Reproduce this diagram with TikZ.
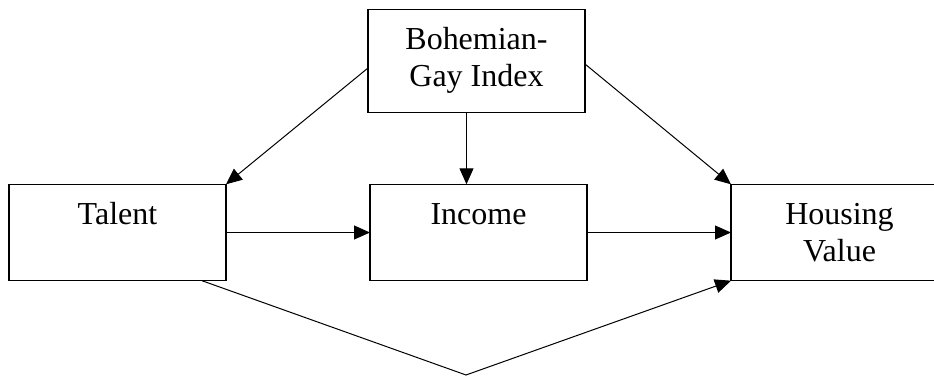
\documentclass[tikz,border=0pt]{standalone}
\usepackage{fontspec}
\setmainfont{Liberation Serif}
\usepackage{tikz}
\usetikzlibrary{positioning,calc,arrows.meta}
\newcommand{\boxlines}[1]{\begin{tabular}[t]{@{}c@{}}#1\end{tabular}}

\begin{document}
\begin{tikzpicture}[node distance=72pt, auto,
    font=\fontsize{16}{18.5}\selectfont,
    box/.style={rectangle, draw, line width=0.65pt, inner ysep=0pt, outer sep=0pt, minimum width=108.5pt, text height=20.25pt, text depth=27.95pt},
    arrow/.style={-{Triangle[length=8pt,width=7pt]}, line width=0.5pt}]

    \useasboundingbox (0,0) rectangle (467pt,-188pt);
    \clip (0,0) rectangle (467pt,-188pt);

    % Middle row
    \node[box] (talent) at (58.75pt,-116.25pt) {\boxlines{Talent}};
    \node[box, right=of talent] (income) {\boxlines{Income}};
    \node[box, right=of income] (housing) {\boxlines{Housing\\Value}};

    % Top box
    \node[box, text depth=31.45pt, above=35.8pt of income, xshift=-1pt] (bgi) {\boxlines{Bohemian-\\Gay Index}};

    % Bend point of the lower path
    \coordinate (apex) at (233pt,-187.5pt);

    % Arrows
    \draw[arrow] ([yshift=-3.5pt]bgi.west) -- (talent.north east);
    \draw[arrow] ([xshift=-5pt]bgi.south) -- ([xshift=-5pt]bgi.south |- income.north);
    \draw[arrow] ([yshift=-1.5pt]bgi.east) -- (housing.north west);
    \draw[arrow] (talent.east) -- (income.west);
    \draw[arrow] (income.east) -- (housing.west);
    \draw[arrow] ([xshift=42.25pt]talent.south) -- (apex) -- (housing.south west);

\end{tikzpicture}
\end{document}
